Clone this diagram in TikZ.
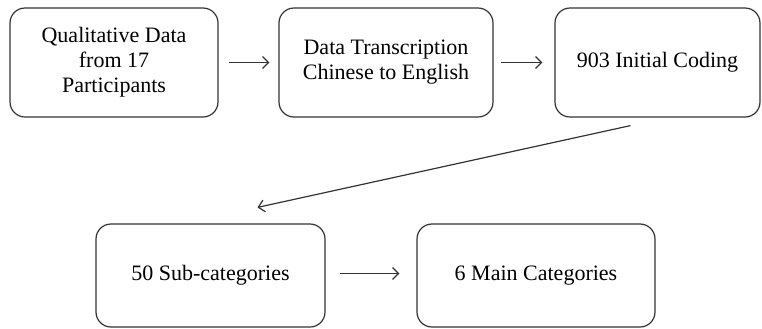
\documentclass[tikz,border=0pt]{standalone}
\usepackage{fontspec}
\setmainfont{Liberation Serif}
\usetikzlibrary{arrows.meta,calc}
\tikzset{
  stagebox/.style={draw=black!80,line width=0.6pt,rounded corners=7.5pt,align=center,
    font=\fontsize{11}{12.5}\selectfont,inner sep=0pt},
  flow/.style={-{Straight Barb[length=3pt,width=6pt]},draw=black!80,line width=0.6pt}
}
\begin{document}
\begin{tikzpicture}[x=0.5pt,y=-0.5pt]
\useasboundingbox (0,0) rectangle (762,328);
% top row
\node[stagebox,minimum width=104pt,minimum height=54.5pt] (qual) at (114,62.5)
  {Qualitative Data\\from 17\\Participants};
\node[stagebox,minimum width=107pt,minimum height=54.5pt] (trans) at (386,62.5)
  {Data Transcription\\Chinese to English};
\node[stagebox,minimum width=102.5pt,minimum height=54.5pt] (init) at (657.5,62.5)
  {903 Initial Coding};
% bottom row
\node[stagebox,minimum width=114.5pt,minimum height=51.5pt] (sub) at (210.5,275.5)
  {50 Sub-categories};
\node[stagebox,minimum width=119pt,minimum height=51.5pt] (main) at (536,275.5)
  {6 Main Categories};
% connectors
\draw[flow,shorten <=5pt,shorten >=4.5pt] (qual) -- (trans);
\draw[flow,shorten <=3.5pt,shorten >=6pt] (trans) -- (init);
\draw[flow] ($(init.south)+(-27,8)$) -- ($(sub.north)+(47,-16)$);
\draw[flow,shorten <=7pt,shorten >=8.5pt] ($(sub.east)+(0,-2)$) -- ($(main.west)+(0,-2)$);
\end{tikzpicture}
\end{document}
